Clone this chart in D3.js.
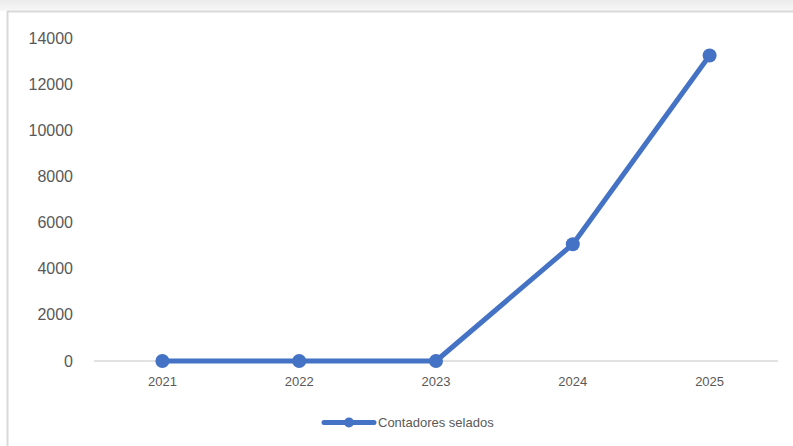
<!DOCTYPE html>
<html><head><meta charset="utf-8">
<script src="https://cdn.jsdelivr.net/npm/d3@7/dist/d3.min.js"></script>
<style>body{margin:0;background:#fff;}svg{display:block;}</style>
</head><body>
<script>
const categories = ["2021","2022","2023","2024","2025"];
const values = [0, 0, 0, 5060, 13240];
const yTicks = [0,2000,4000,6000,8000,10000,12000,14000];
const seriesName = "Contadores selados";

const W = 793, H = 446;
const svg = d3.select("body").append("svg").attr("width", W).attr("height", H);
const defs = svg.append("defs");
const g = defs.append("linearGradient").attr("id","sh").attr("x1",0).attr("y1",0).attr("x2",0).attr("y2",1);
g.append("stop").attr("offset","0%").attr("stop-color","#ececec");
g.append("stop").attr("offset","100%").attr("stop-color","#f7f7f7");
svg.append("rect").attr("x",0).attr("y",0).attr("width",W).attr("height",11).attr("fill","url(#sh)");
svg.append("line").attr("x1",7).attr("x2",W).attr("y1",11.5).attr("y2",11.5).attr("stroke","#d9d9d9").attr("stroke-width",2);
svg.append("line").attr("x1",7.5).attr("x2",7.5).attr("y1",11).attr("y2",H).attr("stroke","#d9d9d9").attr("stroke-width",2);

const x = d3.scaleBand().domain(categories).range([94, 778]);
const y = d3.scaleLinear().domain([0, 14000]).range([361, 38]);

// y labels
svg.append("g").selectAll("text").data(yTicks).join("text")
  .attr("x", 73).attr("y", d => y(d)).attr("dy","0.35em")
  .attr("text-anchor","end").attr("fill","#595959")
  .style("font-family","'Liberation Sans', Arial, sans-serif").style("font-size","16px")
  .text(d => d);

// axis line
svg.append("line").attr("x1",94).attr("x2",778).attr("y1",y(0)).attr("y2",y(0))
  .attr("stroke","#d9d9d9").attr("stroke-width",1.5);

// x labels
svg.append("g").selectAll("text").data(categories).join("text")
  .attr("x", d => x(d) + x.bandwidth()/2).attr("y", 386)
  .attr("text-anchor","middle").attr("fill","#595959")
  .style("font-family","'Liberation Sans', Arial, sans-serif").style("font-size","13px")
  .text(d => d);

const pts = categories.map((c,i) => [x(c)+x.bandwidth()/2, y(values[i])]);
svg.append("path").attr("d", d3.line()(pts)).attr("fill","none")
  .attr("stroke","#4472C4").attr("stroke-width",5).attr("stroke-linejoin","round").attr("stroke-linecap","round");
svg.append("g").selectAll("circle").data(pts).join("circle")
  .attr("cx", d => d[0]).attr("cy", d => d[1]).attr("r", 7).attr("fill","#4472C4");

// legend
const ly = 422.5;
svg.append("line").attr("x1",324).attr("x2",374).attr("y1",ly).attr("y2",ly)
  .attr("stroke","#4472C4").attr("stroke-width",5).attr("stroke-linecap","round");
svg.append("circle").attr("cx",349).attr("cy",ly).attr("r",5).attr("fill","#4472C4");
svg.append("text").attr("x",378).attr("y",ly).attr("dy","0.35em").attr("fill","#595959")
  .style("font-family","'Liberation Sans', Arial, sans-serif").style("font-size","13px")
  .text(seriesName);
</script>
</body></html>
